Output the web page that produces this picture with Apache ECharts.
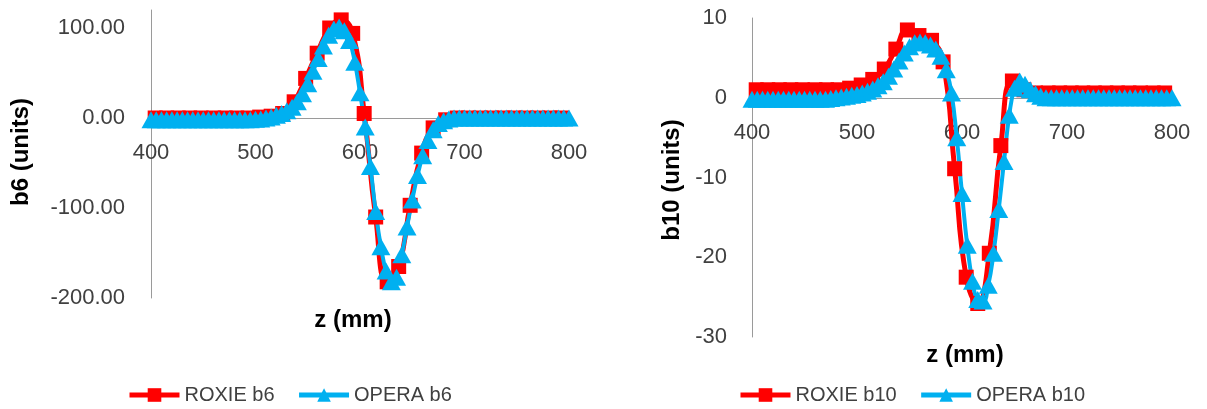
<!DOCTYPE html>
<html>
<head>
<meta charset="utf-8">
<title>b6 / b10</title>
<script src="https://cdn.jsdelivr.net/npm/echarts@6/dist/echarts.min.js"></script>
<style>
  html, body { margin: 0; padding: 0; background: #fff; }
  #main { width: 1207px; height: 409px; }
</style>
</head>
<body>
<div id="main"></div>
<script>
// z positions (mm)
var zRoxie = [404, 415, 426, 437, 448, 460, 471, 482, 493, 504, 515, 526, 537, 548, 559, 571, 582, 593,
  604, 615, 626, 637, 648, 659, 670, 682, 693, 704, 715, 726, 737, 748, 759, 770, 782, 793];
var zOpera = [400, 405, 410, 415, 420, 425, 430, 435, 440, 445, 450, 455, 460, 465, 470, 475, 480, 485, 490, 495,
  500, 505, 510, 515, 520, 525, 530, 535, 540, 545, 550, 555, 560, 565, 570, 575, 580, 585, 590, 595,
  600, 605, 610, 615, 620, 625, 630, 635, 640, 645, 650, 655, 660, 665, 670, 675, 680, 685, 690, 695,
  700, 705, 710, 715, 720, 725, 730, 735, 740, 745, 750, 755, 760, 765, 770, 775, 780, 785, 790, 795, 800];

// b6 (units)
var roxieB6 = [0, 0, 0, 0, 0, 0, 0, 0, 0, 1, 2, 5, 18, 44, 72, 100, 109, 94,
  5, -110, -182, -165, -97, -39, -11, -2, 0, 0, 0, 0, 0, 0, 0, 0, 0, 0];
var operaB6 = [-2, -2, -2, -2, -2, -2, -2, -2, -2, -2, -2, -2, -2, -2, -2, -2, -2, -2, -2, -2,
  -1.5, -1, 0, 1, 3, 5, 8, 12, 18, 27, 38, 52, 66, 80, 92, 99, 101, 97, 86, 62,
  28, -10, -54, -104, -143, -170, -182, -177, -152, -121, -91, -64, -42, -25, -13, -6, -3, -1, 0, 0,
  0, 0, 0, 0, 0, 0, 0, 0, 0, 0, 0, 0, 0, 0, 0, 0, 0, 0, 0, 0, 0];

// b10 (units)
var roxieB10 = [1, 1, 1, 1, 1, 1, 1, 1, 1.2, 1.6, 2.3, 3.6, 6.1, 8.5, 7.8, 7.2, 4.5, -8.9,
  -22.5, -25.8, -19.5, -6.0, 2.1, 1.0, 0.6, 0.6, 0.6, 0.6, 0.6, 0.6, 0.6, 0.6, 0.6, 0.6, 0.6, 0.6];
var operaB10 = [-0.2, -0.2, -0.2, -0.2, -0.2, -0.2, -0.2, -0.2, -0.2, -0.2, -0.2, -0.2, -0.2, -0.2, -0.2, -0.1, 0, 0.1, 0.2, 0.3,
  0.4, 0.6, 0.8, 1.1, 1.5, 2.0, 2.7, 3.6, 4.6, 5.6, 6.4, 6.9, 7.0, 6.9, 6.6, 6.1, 5.2, 3.5, 0.6, -5.0,
  -12.0, -18.5, -23.0, -25.3, -25.5, -23.5, -19.5, -14.0, -8.0, -2.2, 1.2, 2.1, 1.7, 1.0, 0.5, 0.2, 0, 0, 0, 0,
  0, 0, 0, 0, 0, 0, 0, 0, 0, 0, 0, 0, 0, 0, 0, 0, 0, 0, 0, 0, 0];

var xTicks = [400, 500, 600, 700, 800];
var b6Ticks = [-200, -100, 0, 100];
var b6Max = 120;
var b10Ticks = [-30, -20, -10, 0, 10];

var FONT = 'Liberation Sans';
var TXT = '#404040';
var AXIS = '#9a9a9a';
var RED = '#ff0000';
var BLUE = '#00b0f0';
var H = 409;

var grids = [
  { left: 151, right: 638, top: 10, bottom: 111 },
  { left: 752, right: 35, top: 18, bottom: 72 }
];

function pairs (xs, ys) {
  var out = [];
  for (var i = 0; i < xs.length; i++) {
    out.push([xs[i], ys[i]]);
  }
  return out;
}

// x axis sits on y = 0 like excel: shift it up from the grid bottom
function zeroOffset (g, ymin, ymax) {
  var h = H - g.top - g.bottom;
  return -(0 - ymin) / (ymax - ymin) * h;
}

function xAxisOf (gi, ymin, ymax) {
  return {
    type: 'value',
    gridIndex: gi,
    min: xTicks[0],
    max: xTicks[xTicks.length - 1],
    interval: xTicks[1] - xTicks[0],
    offset: zeroOffset(grids[gi], ymin, ymax),
    axisLine: { onZero: false, lineStyle: { color: AXIS, width: 1 } },
    axisTick: { show: false },
    splitLine: { show: false },
    axisLabel: { color: TXT, fontFamily: FONT, fontSize: 22, margin: 24 }
  };
}

function roxie (name, xi, data) {
  return {
    name: name, type: 'line', xAxisIndex: xi, yAxisIndex: xi,
    data: data, smooth: true,
    symbol: 'rect', symbolSize: 15,
    lineStyle: { color: RED, width: 5 },
    itemStyle: { color: RED }
  };
}

function opera (name, xi, data) {
  return {
    name: name, type: 'line', xAxisIndex: xi, yAxisIndex: xi,
    data: data, smooth: true,
    symbol: 'triangle', symbolSize: [19, 17],
    lineStyle: { color: BLUE, width: 4 },
    itemStyle: { color: BLUE }
  };
}

function legendOf (names, left) {
  return {
    data: names, left: left, top: 380,
    itemWidth: 50, itemHeight: 17, itemGap: 22,
    lineStyle: { width: 5 },
    textStyle: { color: TXT, fontFamily: FONT, fontSize: 20 }
  };
}

var titleFont = 'bold 24px "Liberation Sans"';

var myChart = echarts.init(document.getElementById('main'));

var option = {
  animation: false,
  backgroundColor: '#fff',
  textStyle: { fontFamily: FONT },
  grid: grids,
  xAxis: [
    xAxisOf(0, b6Ticks[0], b6Max),
    xAxisOf(1, b10Ticks[0], b10Ticks[b10Ticks.length - 1])
  ],
  yAxis: [
    {
      type: 'value', gridIndex: 0,
      min: b6Ticks[0], max: b6Max, interval: 100,
      axisLine: { show: true, onZero: false, lineStyle: { color: AXIS, width: 1 } },
      axisTick: { show: false },
      splitLine: { show: false },
      axisLabel: {
        color: TXT, fontFamily: FONT, fontSize: 22, margin: 26,
        formatter: function (v) { return b6Ticks.indexOf(v) >= 0 ? v.toFixed(2) : ''; }
      }
    },
    {
      type: 'value', gridIndex: 1,
      min: b10Ticks[0], max: b10Ticks[b10Ticks.length - 1], interval: 10,
      axisLine: { show: true, onZero: false, lineStyle: { color: AXIS, width: 1 } },
      axisTick: { show: false },
      splitLine: { show: false },
      axisLabel: { color: TXT, fontFamily: FONT, fontSize: 22, margin: 25 }
    }
  ],
  legend: [
    legendOf(['ROXIE b6', 'OPERA b6'], 122),
    legendOf(['ROXIE b10', 'OPERA b10'], 733)
  ],
  graphic: [
    { type: 'text', x: 353, y: 320, style: { text: 'z (mm)', fill: '#000', font: titleFont, textAlign: 'center', textVerticalAlign: 'middle' } },
    { type: 'text', x: 965, y: 355, style: { text: 'z (mm)', fill: '#000', font: titleFont, textAlign: 'center', textVerticalAlign: 'middle' } },
    { type: 'text', x: 21, y: 152, rotation: Math.PI / 2, style: { text: 'b6 (units)', fill: '#000', font: titleFont, textAlign: 'center', textVerticalAlign: 'middle' } },
    { type: 'text', x: 672, y: 180, rotation: Math.PI / 2, style: { text: 'b10 (units)', fill: '#000', font: titleFont, textAlign: 'center', textVerticalAlign: 'middle' } }
  ],
  series: [
    roxie('ROXIE b6', 0, pairs(zRoxie, roxieB6)),
    opera('OPERA b6', 0, pairs(zOpera, operaB6)),
    roxie('ROXIE b10', 1, pairs(zRoxie, roxieB10)),
    opera('OPERA b10', 1, pairs(zOpera, operaB10))
  ]
};

myChart.setOption(option);
</script>
</body>
</html>
